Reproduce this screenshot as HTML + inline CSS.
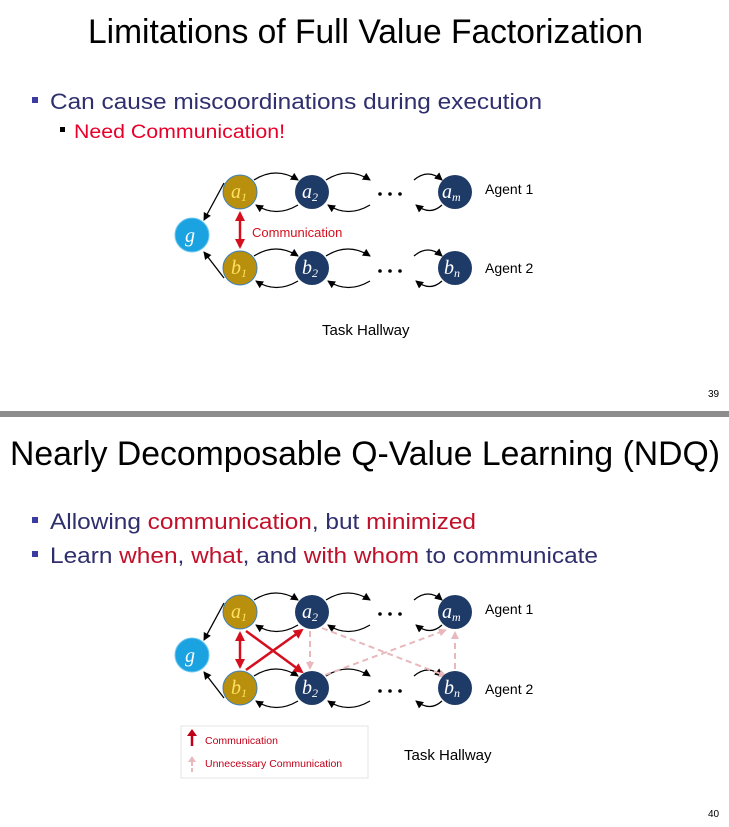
<!DOCTYPE html>
<html><head><meta charset="utf-8"><style>
html,body{margin:0;padding:0;background:#fff;}
svg{display:block;font-family:"Liberation Sans",sans-serif;}
.serif{font-family:"Liberation Serif",serif;font-style:italic;}
</style></head><body>
<svg width="729" height="827" viewBox="0 0 729 827" xmlns="http://www.w3.org/2000/svg">
<defs>
<marker id="ah" markerWidth="8" markerHeight="8" refX="7" refY="4" orient="auto" markerUnits="userSpaceOnUse"><path d="M0,0 L8,4 L0,8 z" fill="#000"/></marker>
<marker id="rh" markerWidth="10" markerHeight="10" refX="8" refY="5" orient="auto-start-reverse" markerUnits="userSpaceOnUse"><path d="M0,0 L10,5 L0,10 z" fill="#d5101e"/></marker>
<marker id="ph" markerWidth="8" markerHeight="8" refX="7" refY="4" orient="auto" markerUnits="userSpaceOnUse"><path d="M0,0 L8,4 L0,8 z" fill="#e8b8bc"/></marker>
</defs>
<rect width="729" height="827" fill="#fff"/>
<!-- Slide 39 -->
<text x="88" y="43" font-size="34" fill="#000" textLength="555" lengthAdjust="spacingAndGlyphs">Limitations of Full Value Factorization</text>
<rect x="32" y="97" width="6" height="6" fill="#3c3ca0"/>
<text x="50" y="109" font-size="22" fill="#2f2f6e" textLength="492" lengthAdjust="spacingAndGlyphs">Can cause miscoordinations during execution</text>
<rect x="60" y="127" width="5" height="5" fill="#000"/>
<text x="74" y="138" font-size="19" fill="#e8002a" textLength="211" lengthAdjust="spacingAndGlyphs">Need Communication!</text>

<g fill="none" stroke="#000" stroke-width="1.3">
<path d="M224,183 L204,220" marker-end="url(#ah)"/>
<path d="M224,278 L204,252" marker-end="url(#ah)"/>
<path d="M254,180 Q276,166 298,180" marker-end="url(#ah)"/>
<path d="M298,205 Q276,218 256,205" marker-end="url(#ah)"/>
<path d="M326,180 Q348,166 370,180" marker-end="url(#ah)"/>
<path d="M370,205 Q348,218 328,205" marker-end="url(#ah)"/>
<path d="M414,180 Q428,168 442,180" marker-end="url(#ah)"/>
<path d="M442,205 Q430,216 416,205" marker-end="url(#ah)"/>
<path d="M254,256 Q276,242 298,256" marker-end="url(#ah)"/>
<path d="M298,281 Q276,294 256,281" marker-end="url(#ah)"/>
<path d="M326,256 Q348,242 370,256" marker-end="url(#ah)"/>
<path d="M370,281 Q348,294 328,281" marker-end="url(#ah)"/>
<path d="M414,256 Q428,244 442,256" marker-end="url(#ah)"/>
<path d="M442,281 Q430,292 416,281" marker-end="url(#ah)"/>
</g>
<g fill="#000"><circle cx="380" cy="194" r="1.8"/><circle cx="390" cy="194" r="1.8"/><circle cx="400" cy="194" r="1.8"/>
<circle cx="380" cy="271" r="1.8"/><circle cx="390" cy="271" r="1.8"/><circle cx="400" cy="271" r="1.8"/></g>
<line x1="240" y1="213" x2="240" y2="247" stroke="#d5101e" stroke-width="2.5" marker-end="url(#rh)" marker-start="url(#rh)"/>
<text x="252" y="237" font-size="13" fill="#d5101e">Communication</text>
<circle cx="192" cy="235" r="17" fill="#1aa3e0" stroke="#6fc8f0" stroke-width="1"/>
<circle cx="240" cy="192" r="17" fill="#b8900e" stroke="#3b7fc0" stroke-width="1"/>
<circle cx="240" cy="268" r="17" fill="#b8900e" stroke="#3b7fc0" stroke-width="1"/>
<circle cx="312" cy="192" r="17" fill="#1e3a66"/><circle cx="455" cy="192" r="17" fill="#1e3a66"/>
<circle cx="312" cy="268" r="17" fill="#1e3a66"/><circle cx="455" cy="268" r="17" fill="#1e3a66"/>
<g class="serif" font-size="20" fill="#fff">
<text x="185" y="242">g</text>
<text x="231" y="198" fill="#ffe060">a<tspan font-size="12" dy="3">1</tspan></text>
<text x="231" y="274" fill="#ffe060">b<tspan font-size="12" dy="3">1</tspan></text>
<text x="302" y="198">a<tspan font-size="12" dy="3">2</tspan></text>
<text x="302" y="274">b<tspan font-size="12" dy="3">2</tspan></text>
<text x="442" y="198">a<tspan font-size="12" dy="3">m</tspan></text>
<text x="444" y="274">b<tspan font-size="12" dy="3">n</tspan></text>
</g>
<text x="485" y="194" font-size="14" fill="#000">Agent 1</text>
<text x="485" y="273" font-size="14" fill="#000">Agent 2</text>
<text x="322" y="335" font-size="15" fill="#000">Task Hallway</text>
<text x="708" y="397" font-size="10" fill="#000">39</text>

<rect x="0" y="411" width="729" height="6" fill="#8c8c8c"/>

<!-- Slide 40 -->
<text x="10" y="465" font-size="34" fill="#000" textLength="710" lengthAdjust="spacingAndGlyphs">Nearly Decomposable Q-Value Learning (NDQ)</text>
<rect x="32" y="517" width="6" height="6" fill="#3c3ca0"/>
<text x="50" y="529" font-size="22" fill="#2f2f6e" textLength="426" lengthAdjust="spacingAndGlyphs">Allowing <tspan fill="#c0102a">communication</tspan>, but <tspan fill="#c0102a">minimized</tspan></text>
<rect x="32" y="551" width="6" height="6" fill="#3c3ca0"/>
<text x="50" y="563" font-size="22" fill="#2f2f6e" textLength="548" lengthAdjust="spacingAndGlyphs">Learn <tspan fill="#c0102a">when</tspan>, <tspan fill="#c0102a">what</tspan>, and <tspan fill="#c0102a">with whom</tspan> to communicate</text>

<g fill="none" stroke="#000" stroke-width="1.3">
<path d="M224,603 L204,640" marker-end="url(#ah)"/>
<path d="M224,698 L204,672" marker-end="url(#ah)"/>
<path d="M254,600 Q276,586 298,600" marker-end="url(#ah)"/>
<path d="M298,625 Q276,638 256,625" marker-end="url(#ah)"/>
<path d="M326,600 Q348,586 370,600" marker-end="url(#ah)"/>
<path d="M370,625 Q348,638 328,625" marker-end="url(#ah)"/>
<path d="M414,600 Q428,588 442,600" marker-end="url(#ah)"/>
<path d="M442,625 Q430,636 416,625" marker-end="url(#ah)"/>
<path d="M254,676 Q276,662 298,676" marker-end="url(#ah)"/>
<path d="M298,701 Q276,714 256,701" marker-end="url(#ah)"/>
<path d="M326,676 Q348,662 370,676" marker-end="url(#ah)"/>
<path d="M370,701 Q348,714 328,701" marker-end="url(#ah)"/>
<path d="M414,676 Q428,664 442,676" marker-end="url(#ah)"/>
<path d="M442,701 Q430,712 416,701" marker-end="url(#ah)"/>
</g>
<g fill="#000"><circle cx="380" cy="614" r="1.8"/><circle cx="390" cy="614" r="1.8"/><circle cx="400" cy="614" r="1.8"/>
<circle cx="380" cy="691" r="1.8"/><circle cx="390" cy="691" r="1.8"/><circle cx="400" cy="691" r="1.8"/></g>
<g stroke="#e8b8bc" stroke-width="2" stroke-dasharray="6,4" fill="none">
<line x1="310" y1="631" x2="310" y2="669" marker-end="url(#ph)"/>
<line x1="455" y1="669" x2="455" y2="632" marker-end="url(#ph)"/>
<line x1="322" y1="628" x2="446" y2="676" marker-end="url(#ph)"/>
<line x1="325" y1="675" x2="446" y2="630" marker-end="url(#ph)"/>
</g>
<g stroke="#d5101e" stroke-width="2.5" fill="none">
<line x1="240" y1="633" x2="240" y2="667" marker-end="url(#rh)" marker-start="url(#rh)"/>
<line x1="246" y1="631" x2="302" y2="672" marker-end="url(#rh)"/>
<line x1="246" y1="670" x2="302" y2="630" marker-end="url(#rh)"/>
</g>
<circle cx="192" cy="655" r="17" fill="#1aa3e0" stroke="#6fc8f0" stroke-width="1"/>
<circle cx="240" cy="612" r="17" fill="#b8900e" stroke="#3b7fc0" stroke-width="1"/>
<circle cx="240" cy="688" r="17" fill="#b8900e" stroke="#3b7fc0" stroke-width="1"/>
<circle cx="312" cy="612" r="17" fill="#1e3a66"/><circle cx="455" cy="612" r="17" fill="#1e3a66"/>
<circle cx="312" cy="688" r="17" fill="#1e3a66"/><circle cx="455" cy="688" r="17" fill="#1e3a66"/>
<g class="serif" font-size="20" fill="#fff">
<text x="185" y="662">g</text>
<text x="231" y="618" fill="#ffe060">a<tspan font-size="12" dy="3">1</tspan></text>
<text x="231" y="694" fill="#ffe060">b<tspan font-size="12" dy="3">1</tspan></text>
<text x="302" y="618">a<tspan font-size="12" dy="3">2</tspan></text>
<text x="302" y="694">b<tspan font-size="12" dy="3">2</tspan></text>
<text x="442" y="618">a<tspan font-size="12" dy="3">m</tspan></text>
<text x="444" y="694">b<tspan font-size="12" dy="3">n</tspan></text>
</g>
<text x="485" y="614" font-size="14" fill="#000">Agent 1</text>
<text x="485" y="694" font-size="14" fill="#000">Agent 2</text>

<rect x="181" y="726" width="187" height="52" fill="#fff" stroke="#e4e4e4" stroke-width="1"/>
<line x1="192" y1="746" x2="192" y2="733" stroke="#c00018" stroke-width="2.5"/>
<path d="M187,736 L192,729 L197,736 z" fill="#c00018"/>
<line x1="192" y1="772" x2="192" y2="760" stroke="#e8b8bc" stroke-width="2" stroke-dasharray="4,2"/>
<path d="M188,762 L192,756 L196,762 z" fill="#e8b8bc"/>
<text x="205" y="744" font-size="10.5" fill="#c00018">Communication</text>
<text x="205" y="767" font-size="10.5" fill="#c00018">Unnecessary Communication</text>
<text x="404" y="760" font-size="15" fill="#000">Task Hallway</text>
<text x="708" y="817" font-size="10" fill="#000">40</text>
</svg>
</body></html>
